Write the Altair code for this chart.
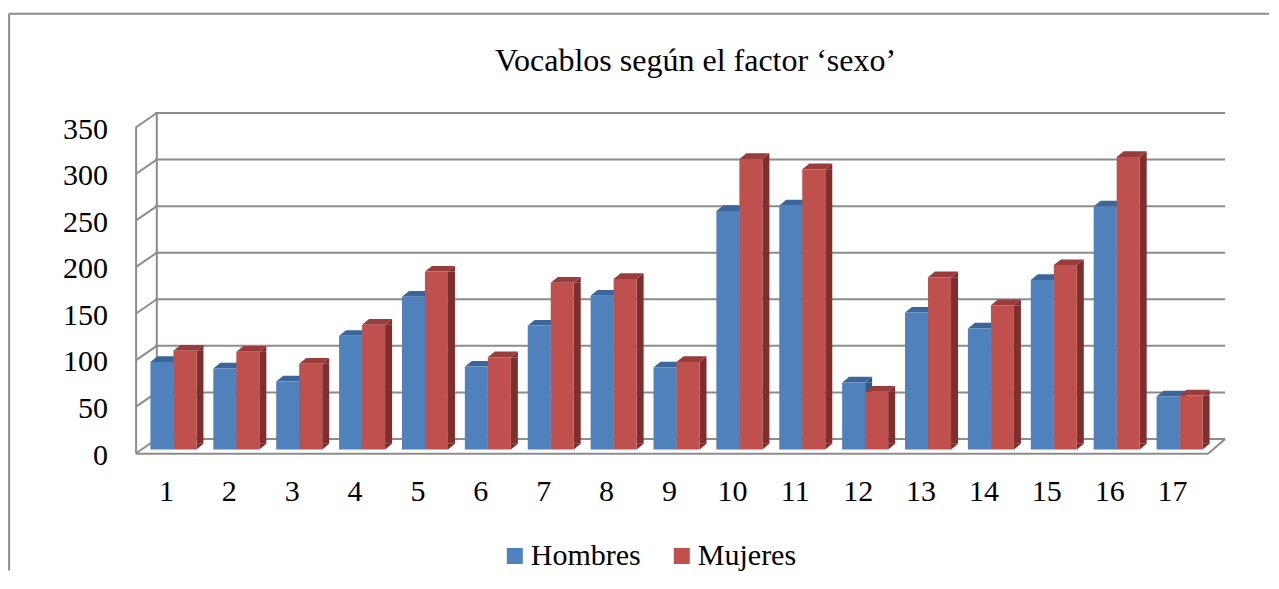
import altair as alt
import pandas as pd

# ---------------- data ----------------
categorias = list(range(1, 18))
hombres = [94, 87, 73, 122, 164, 89, 133, 165, 88, 256, 262, 72, 147, 130, 182, 261, 57]
mujeres = [106, 105, 92, 134, 191, 99, 179, 183, 94, 312, 301, 62, 185, 155, 198, 314, 58]
series = ["Hombres", "Mujeres"]
y_ticks = [0, 50, 100, 150, 200, 250, 300, 350]
titulo = "Vocablos según el factor ‘sexo’"

rows = []
for c, h, m in zip(categorias, hombres, mujeres):
    rows.append({"cat": c, "serie": series[0], "valor": h})
    rows.append({"cat": c, "serie": series[1], "valor": m})
df = pd.DataFrame(rows)
gdf = pd.DataFrame({"v": y_ticks})
cdf = pd.DataFrame({"cat": categorias})
one = pd.DataFrame({"k": [0]})

# ---------------- style ----------------
W, H = 1069, 326
BW = 0.3658          # bar width in category units
FONT = "Liberation Serif"
GRID = "#8c8c8c"
COL = {
    "Hombres": {"front": "#4F81BD", "top": "#3C659A", "side": "#36587F"},
    "Mujeres": {"front": "#C0504D", "top": "#983D3B", "side": "#7C2F2E"},
}

xs = alt.Scale(domain=[0.5, 17.5], nice=False, zero=False)
ys = alt.Scale(domain=[0, 350], nice=False, zero=True)

base = alt.Chart(df).transform_calculate(
    x0=f"datum.serie == 'Hombres' ? datum.cat - {BW} : datum.cat",
    zero0="0",
).transform_calculate(
    x1=f"datum.x0 + {BW}",
    xm=f"datum.x0 + {BW / 2}",
)

layers = []

# outer border (left and top)
layers.append(alt.Chart(one).mark_rule(color=GRID, strokeWidth=2).encode(
    x=alt.value(-132.9), y=alt.value(-109.8), y2=alt.value(447)))
layers.append(alt.Chart(one).mark_rule(color=GRID, strokeWidth=2).encode(
    x=alt.value(-132.9), x2=alt.value(1127), y=alt.value(-109.8)))

# back-wall gridlines
layers.append(alt.Chart(gdf).mark_rule(color=GRID, strokeWidth=2, yOffset=-10.5).encode(
    x=alt.value(13.1), x2=alt.value(1083.1),
    y=alt.Y("v:Q", scale=ys, axis=None)))
# left wall: back and front verticals
layers.append(alt.Chart(one).mark_rule(color=GRID, strokeWidth=2).encode(
    x=alt.value(14.8), y=alt.value(-11), y2=alt.value(316)))
layers.append(alt.Chart(one).mark_rule(color=GRID, strokeWidth=2).encode(
    x=alt.value(-5.9), y=alt.value(3.2), y2=alt.value(330.2)))
# left wall diagonal ticks
layers.append(alt.Chart(gdf).mark_rule(color=GRID, strokeWidth=2, yOffset=3.7, y2Offset=-10.5).encode(
    x=alt.value(-5.9), x2=alt.value(14.8),
    y=alt.Y("v:Q", scale=ys, axis=None), y2=alt.Y2("v:Q")))
# floor front edge and right diagonal
layers.append(alt.Chart(one).mark_rule(color=GRID, strokeWidth=2).encode(
    x=alt.value(-5.9), x2=alt.value(1066.1), y=alt.value(330.2)))
layers.append(alt.Chart(one).mark_rule(color=GRID, strokeWidth=2).encode(
    x=alt.value(1066.1), x2=alt.value(1083.1), y=alt.value(330.2), y2=alt.value(315.5)))

# y-axis tick labels
layers.append(alt.Chart(gdf).mark_text(font=FONT, fontSize=30, align="right",
                                       baseline="alphabetic", color="#000000", dy=15).encode(
    x=alt.value(-34), y=alt.Y("v:Q", scale=ys, axis=None), text=alt.Text("v:Q", format="d")))
# x-axis tick labels
layers.append(alt.Chart(cdf).mark_text(font=FONT, fontSize=30, align="center",
                                       baseline="alphabetic", color="#000000", dx=-7).encode(
    x=alt.X("cat:Q", scale=xs, axis=None), y=alt.value(377.7), text=alt.Text("cat:Q", format="d")))

TOP_PATH = "M-1,0.19L0.5333,0.19L1,-0.19L-0.5333,-0.19Z"
TRI_TOP = "M-1,0.814L1,-0.814L1,0.814Z"
TRI_BOT = "M-1,-0.814L-1,0.814L1,-0.814Z"

legend = alt.Legend(orient="none", legendX=357.8, legendY=417.5, direction="horizontal",
                    title=None, symbolType="square", symbolSize=256, symbolStrokeWidth=0,
                    labelFont=FONT, labelFontSize=30, labelColor="#000000", labelOffset=1,
                    columnPadding=26, padding=0, symbolOpacity=1)
color_scale = alt.Scale(domain=series, range=[COL["Hombres"]["front"], COL["Mujeres"]["front"]])

for s in series:
    b = base.transform_filter(alt.datum.serie == s)
    c = COL[s]
    # side face
    layers.append(b.mark_rect(color=c["side"], x2Offset=7, y2Offset=-5.7).encode(
        x=alt.X("x1:Q", scale=xs, axis=None), x2="x1:Q",
        y=alt.Y("valor:Q", scale=ys, axis=None), y2="zero0:Q"))
    layers.append(b.mark_point(shape=TRI_TOP, size=49, filled=True, color=c["side"],
                               opacity=1, strokeWidth=0, xOffset=3.5, yOffset=-2.85).encode(
        x=alt.X("x1:Q", scale=xs, axis=None),
        y=alt.Y("valor:Q", scale=ys, axis=None)))
    layers.append(b.mark_point(shape=TRI_BOT, size=49, filled=True, color=c["side"],
                               opacity=1, strokeWidth=0, xOffset=3.5, yOffset=-2.85).encode(
        x=alt.X("x1:Q", scale=xs, axis=None),
        y=alt.Y("zero0:Q", scale=ys, axis=None)))
    # top face
    layers.append(b.mark_point(shape=TOP_PATH, size=900, filled=True, color=c["top"],
                               opacity=1, strokeWidth=0, xOffset=3.5, yOffset=-2.85).encode(
        x=alt.X("xm:Q", scale=xs, axis=None),
        y=alt.Y("valor:Q", scale=ys, axis=None)))
    # front face
    layers.append(b.mark_rect().encode(
        x=alt.X("x0:Q", scale=xs, axis=None), x2="x1:Q",
        y=alt.Y("valor:Q", scale=ys, axis=None), y2="zero0:Q",
        color=alt.Color("serie:N", scale=color_scale, legend=legend)))

# chart title
layers.append(alt.Chart(one).mark_text(text=titulo, font=FONT, fontSize=32, align="center",
                                       baseline="alphabetic", color="#000000").encode(
    x=alt.value(553.6), y=alt.value(-52.8)))

chart = alt.layer(*layers).properties(
    width=W, height=H,
    padding={"left": 0, "top": 4.5, "right": 0, "bottom": 0},
).configure(
    background="white",
).configure_view(
    stroke=None,
)

chart.save("out.html", embed_options={"renderer": "svg", "actions": False})
